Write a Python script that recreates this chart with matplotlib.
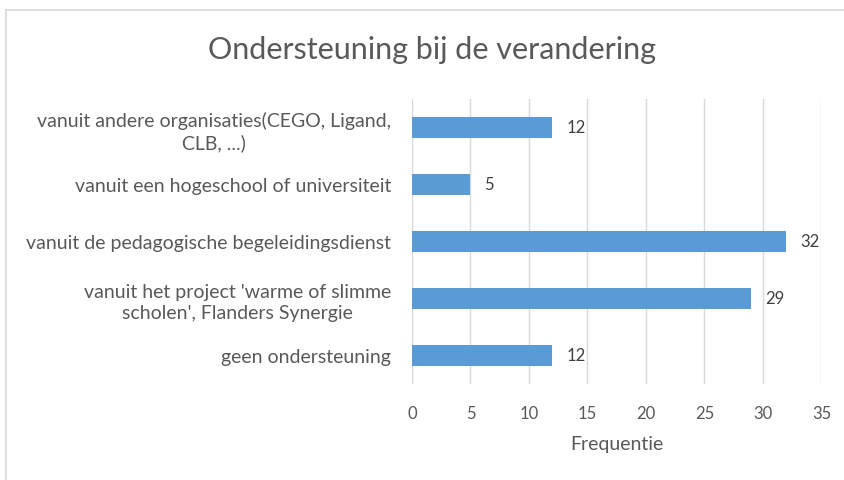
import matplotlib.pyplot as plt
from matplotlib.lines import Line2D

categories = [
    "geen ondersteuning",
    "vanuit het project 'warme of slimme\nscholen', Flanders Synergie",
    "vanuit de pedagogische begeleidingsdienst",
    "vanuit een hogeschool of universiteit",
    "vanuit andere organisaties(CEGO, Ligand,\nCLB, ...)",
]
values = [12, 29, 32, 5, 12]
x_ticks = [0, 5, 10, 15, 20, 25, 30, 35]

bar_color = "#5B9BD5"
text_color = "#595959"
grid_color = "#D9D9D9"

plt.rcParams['font.family'] = ['Lato', 'DejaVu Sans']

fig = plt.figure(figsize=(8.45, 4.81), dpi=100)
ax = fig.add_axes([412 / 845, 1 - 385 / 481, (821.5 - 412) / 845, 285 / 481])

pos = list(range(len(categories)))
ax.barh(pos, values, height=0.37, color=bar_color, zorder=3)

for p, v in zip(pos, values):
    ax.annotate(str(v), (v, p), xytext=(10, 0), textcoords="offset points",
                va="center", ha="left", fontsize=12, color="#404040")

ax.set_xlim(0, 35)
ax.set_ylim(-0.5, len(categories) - 0.5)
ax.set_xticks(x_ticks)
ax.set_yticks(pos)
ax.set_yticklabels(categories, fontsize=14, color=text_color, ha="right",
                   multialignment="center", linespacing=1.3)
ax.tick_params(axis="x", labelsize=12, labelcolor=text_color, length=0, pad=15)
ax.tick_params(axis="y", length=0, pad=15)
ax.grid(axis="x", color=grid_color, linewidth=1, zorder=0)
for s in ax.spines.values():
    s.set_visible(False)
ax.set_xlabel("Frequentie", fontsize=14, color=text_color, labelpad=10)

fig.suptitle("Ondersteuning bij de verandering", fontsize=22, color=text_color,
             x=432.5 / 845, y=1 - 50 / 481, va="center")

# chart frame (partly cropped)
fig.add_artist(Line2D([6 / 845, 1], [1 - 11 / 481, 1 - 11 / 481], color=grid_color, lw=1.2))
fig.add_artist(Line2D([6 / 845, 6 / 845], [0, 1 - 11 / 481], color=grid_color, lw=1.2))

fig.savefig("out.png", dpi=100, facecolor="white")
